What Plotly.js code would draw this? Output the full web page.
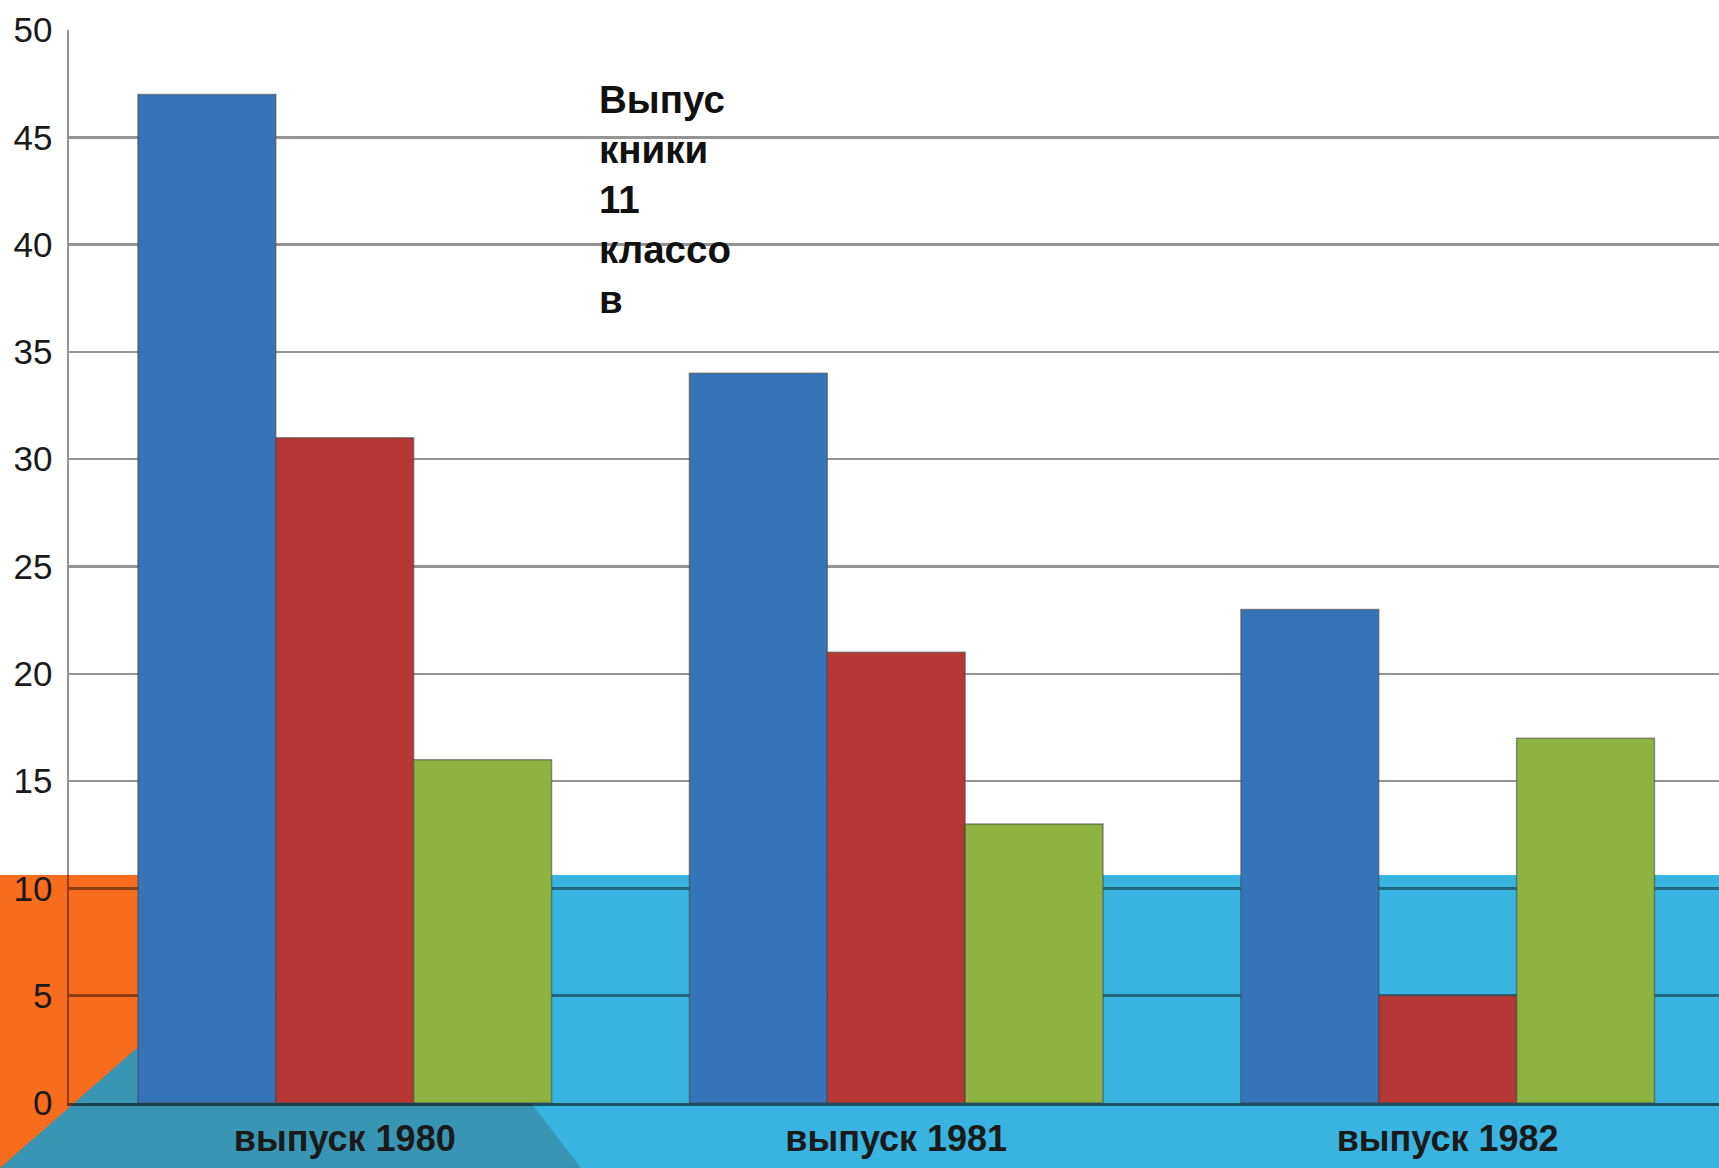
<!DOCTYPE html>
<html>
<head>
<meta charset="utf-8">
<script src="https://cdn.plot.ly/plotly-3.0.1.min.js"></script>
<style>
html,body{margin:0;padding:0;background:#ffffff;}
#chart{width:1719px;height:1168px;}
</style>
</head>
<body>
<div id="chart"></div>
<script>
// ---- data ----
const categories = ["выпуск 1980", "выпуск 1981", "выпуск 1982"];
const seriesNames = ["Ряд 1", "Ряд 2", "Ряд 3"];
const seriesBlue = [47, 34, 23];
const seriesRed = [31, 21, 5];
const seriesGreen = [16, 13, 17];
const yTickValues = [0, 5, 10, 15, 20, 25, 30, 35, 40, 45, 50];
const noteLines = ["Выпус", "кники", "11", "классо", "в"];

// ---- styles ----
const seriesColors = ["#3674BA", "#B63835", "#8DB341"];
const outline = {color: "rgba(70,70,70,0.55)", width: 1.5};

const traces = [seriesBlue, seriesRed, seriesGreen].map((vals, i) => ({
  type: "bar",
  name: seriesNames[i],
  x: categories,
  y: vals,
  marker: {color: seriesColors[i], line: outline},
  hoverinfo: "x+y"
}));

// plot area: left 69px, right 1719px, top 30px, bottom 1103px
const L = 69, R = 1719, T = 30, B = 1103;
const px = v => (v - L) / (R - L);
const py = v => (B - v) / (B - T);

const layout = {
  width: 1719,
  height: 1168,
  margin: {l: L, r: 1719 - R, t: T, b: 1168 - B, pad: 0},
  paper_bgcolor: "#ffffff",
  plot_bgcolor: "rgba(0,0,0,0)",
  showlegend: false,
  barmode: "group",
  bargap: 0.25,
  bargroupgap: 0,
  font: {family: "Liberation Sans, Arial, sans-serif", color: "#1a1a1a"},
  xaxis: {
    type: "category",
    range: [-0.5, 2.492],
    showgrid: false,
    zeroline: false,
    showline: true,
    linecolor: "rgba(0,0,0,0.55)",
    linewidth: 3,
    ticks: "",
    ticklabelstandoff: 2,
    tickfont: {family: "Liberation Sans, Arial, sans-serif", size: 36, weight: 700, color: "#1a1a1a"},
    fixedrange: true
  },
  yaxis: {
    range: [0, 50],
    tickmode: "array",
    tickvals: yTickValues,
    ticktext: yTickValues.map(String),
    showgrid: true,
    gridcolor: "rgba(0,0,0,0.42)",
    gridwidth: 2.5,
    zeroline: false,
    showline: true,
    linecolor: "rgba(0,0,0,0.42)",
    linewidth: 2.5,
    ticks: "",
    ticklabelstandoff: 7,
    tickfont: {family: "Liberation Sans, Arial, sans-serif", size: 35, color: "#1a1a1a"},
    fixedrange: true
  },
  shapes: [
    {type: "rect", xref: "paper", yref: "paper", layer: "below",
     x0: px(0), x1: px(1719), y0: py(875), y1: py(1168),
     fillcolor: "#39B3DF", line: {width: 0}},
    {type: "rect", xref: "paper", yref: "paper", layer: "below",
     x0: px(0), x1: px(138), y0: py(875), y1: py(1168),
     fillcolor: "#F86C1D", line: {width: 0}},
    {type: "path", xref: "paper", yref: "paper", layer: "below",
     path: "M " + px(0) + "," + py(1168) +
           " L " + px(138) + "," + py(1047) +
           " L " + px(138) + "," + py(1103) +
           " L " + px(531) + "," + py(1103) +
           " L " + px(581) + "," + py(1168) + " Z",
     fillcolor: "#3896B4", line: {width: 0}}
  ],
  annotations: [{
    xref: "paper", yref: "paper",
    x: px(597), y: py(199),
    xanchor: "left", yanchor: "middle",
    align: "left",
    showarrow: false,
    text: noteLines.join("<br>"),
    font: {family: "Liberation Sans, Arial, sans-serif", size: 38.5, weight: 700, color: "#111111"}
  }]
};

Plotly.newPlot("chart", traces, layout, {displayModeBar: false, staticPlot: true});
</script>
</body>
</html>
